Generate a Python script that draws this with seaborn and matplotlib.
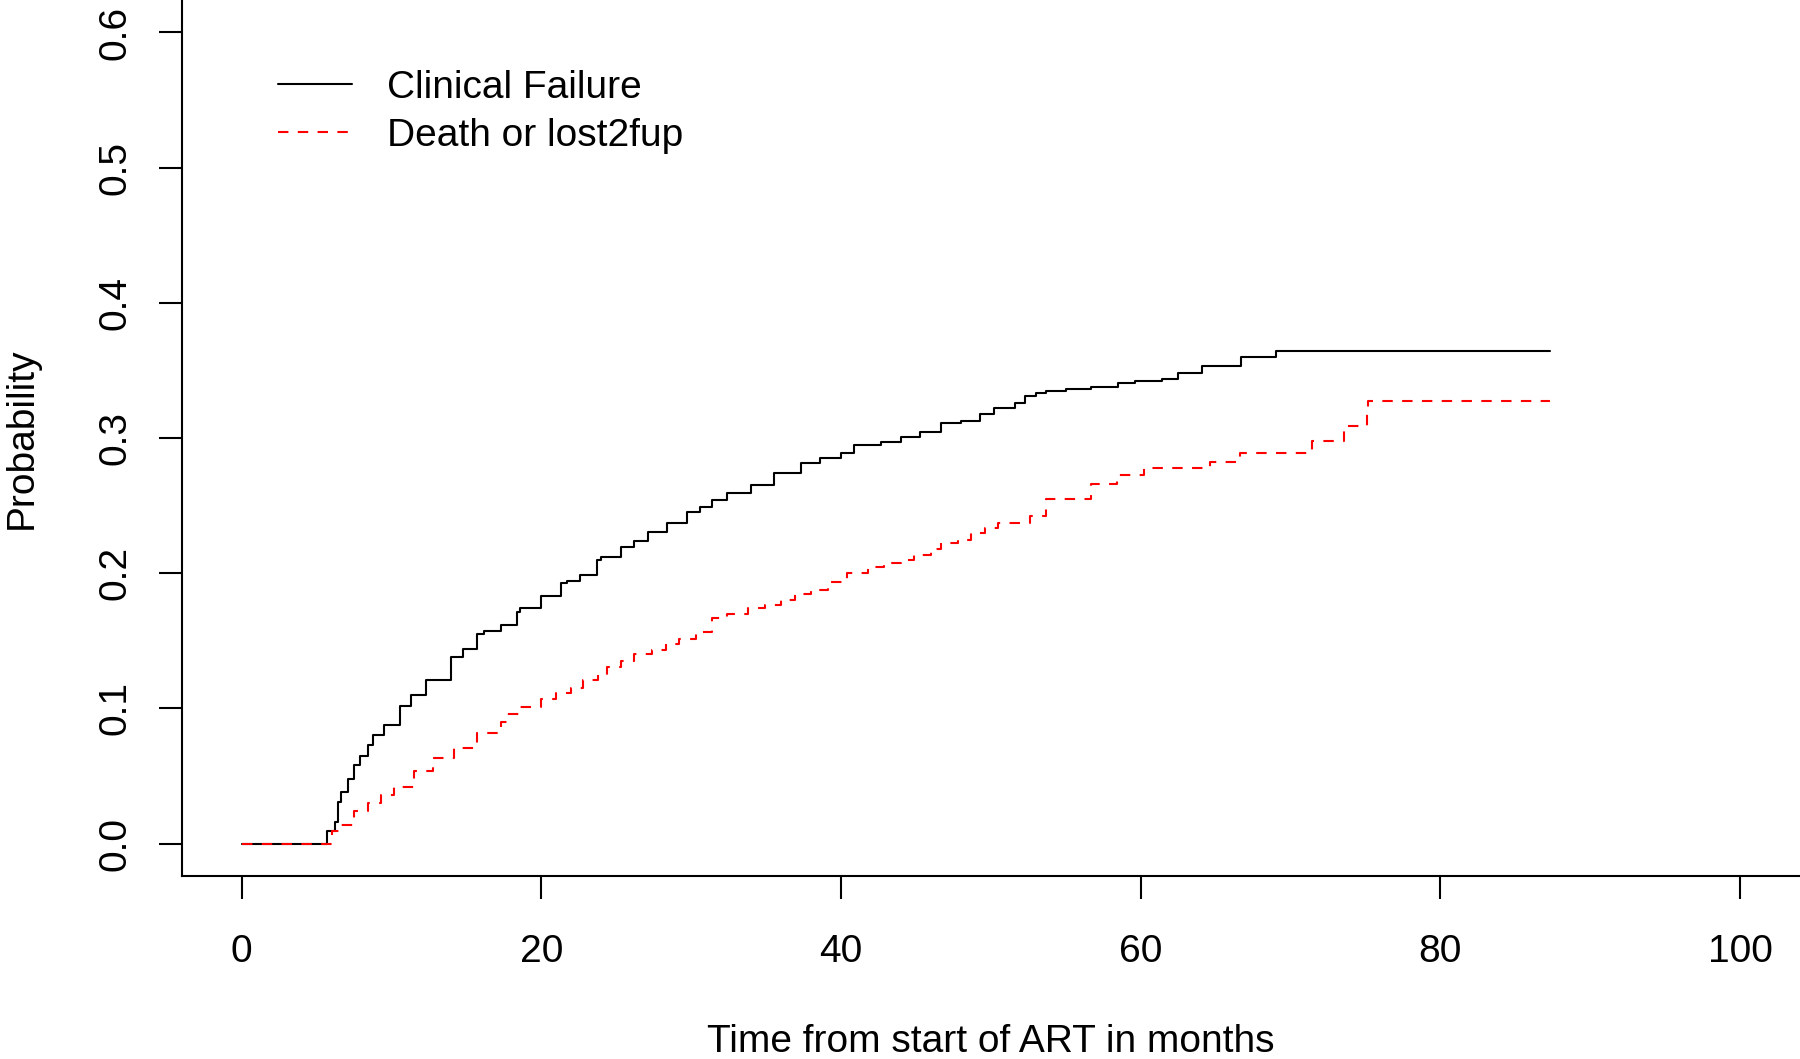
import matplotlib
matplotlib.use("Agg")
import matplotlib.pyplot as plt
import seaborn as sns

# Cumulative incidence (months, probability)
cf_time = [0, 5.6, 5.7, 6.2, 6.4, 6.6, 7.1, 7.5, 7.9, 8.4, 8.8, 9.5, 10.6, 11.3,
           12.3, 13.95, 14.8, 15.7, 16.2, 17.3, 18.4, 18.6, 20.0, 21.3, 21.7,
           22.6, 23.7, 24.0, 25.3, 26.2, 27.1, 28.4, 29.7, 30.6, 31.4, 32.4,
           34.0, 35.5, 37.3, 38.6, 40.0, 40.9, 42.7, 44.0, 45.3, 46.7, 48.0,
           49.3, 50.2, 51.6, 52.3, 53.0, 53.7, 55.0, 56.7, 58.5, 59.6, 61.4,
           62.5, 64.1, 66.7, 69.0, 87.3]
cf_prob = [0, 0, 0.009, 0.016, 0.031, 0.038, 0.048, 0.058, 0.065, 0.073, 0.080,
           0.088, 0.102, 0.110, 0.121, 0.138, 0.144, 0.155, 0.157, 0.1616,
           0.1715, 0.174, 0.183, 0.1924, 0.194, 0.1986, 0.210, 0.212, 0.2196,
           0.2235, 0.2307, 0.2369, 0.2455, 0.2492, 0.254, 0.259, 0.2652, 0.2739,
           0.2813, 0.285, 0.2887, 0.2948, 0.2973, 0.301, 0.3047, 0.3109, 0.3129,
           0.3175, 0.322, 0.326, 0.331, 0.333, 0.335, 0.336, 0.338, 0.3405,
           0.3425, 0.344, 0.348, 0.353, 0.360, 0.364, 0.364]

dl_time = [0, 5.8, 6.05, 6.6, 7.5, 8.4, 9.3, 10.2, 11.5, 12.8, 14.2, 15.7, 17.3,
           17.7, 18.6, 19.96, 21.0, 21.97, 22.8, 23.8, 24.4, 25.3, 26.2, 27.4,
           28.3, 29.2, 30.3, 31.4, 32.4, 33.8, 34.9, 36.0, 36.9, 38.0, 39.1,
           40.4, 41.8, 42.9, 44.0, 44.9, 46.0, 46.7, 47.8, 48.7, 49.6, 50.5,
           52.6, 53.7, 56.7, 58.4, 60.2, 64.6, 66.6, 71.4, 73.6, 75.1, 75.2, 87.3]
dl_prob = [0, 0, 0.009, 0.014, 0.024, 0.030, 0.036, 0.042, 0.054, 0.063, 0.071,
           0.082, 0.090, 0.0962, 0.101, 0.1068, 0.111, 0.1147, 0.121, 0.1246,
           0.1303, 0.135, 0.140, 0.1431, 0.1476, 0.1513, 0.1562, 0.1665, 0.1695,
           0.174, 0.1764, 0.180, 0.1843, 0.1875, 0.1932, 0.1999, 0.2048, 0.2072,
           0.2097, 0.2134, 0.2178, 0.222, 0.2245, 0.2295, 0.2332, 0.2369, 0.242,
           0.255, 0.266, 0.2726, 0.2776, 0.282, 0.2887, 0.2978, 0.3088, 0.318,
           0.327, 0.327]

x_ticks = [0, 20, 40, 60, 80, 100]
y_ticks = [0.0, 0.1, 0.2, 0.3, 0.4, 0.5, 0.6]


def main():
    sns.set_style("ticks")
    plt.rcParams["font.family"] = ["Liberation Sans", "DejaVu Sans"]
    plt.rcParams["text.color"] = "black"
    plt.rcParams["axes.labelcolor"] = "black"
    plt.rcParams["xtick.color"] = "black"
    plt.rcParams["ytick.color"] = "black"
    fs = 28

    fig = plt.figure(figsize=(18, 10.59), dpi=100)
    ax = fig.add_axes([181.7 / 1800, 1 - 876 / 1059, (1800 - 181.7) / 1800, 876 / 1059])

    sns.lineplot(x=cf_time, y=cf_prob, ax=ax, color="black", lw=1.5,
                 drawstyle="steps-post", label="Clinical Failure")
    sns.lineplot(x=dl_time, y=dl_prob, ax=ax, color="red", lw=1.5,
                 drawstyle="steps-post", dashes=(5, 4.5), label="Death or lost2fup")

    ax.set_xlim(-4, 104)
    ax.set_ylim(-0.024, 0.624)
    ax.set_xticks(x_ticks)
    ax.set_xticklabels([str(t) for t in x_ticks])
    ax.set_yticks(y_ticks)
    ax.set_yticklabels([f"{t:.1f}" for t in y_ticks], rotation=90, va="center")
    ax.tick_params(axis="both", length=16.5, width=1.5, labelsize=fs,
                   color="black", labelcolor="black")
    ax.tick_params(axis="x", pad=25.5)
    ax.tick_params(axis="y", pad=18.5)

    for side in ["top", "right"]:
        ax.spines[side].set_visible(False)
    for side in ["left", "bottom"]:
        ax.spines[side].set_linewidth(1.5)
        ax.spines[side].set_color("black")

    ax.set_xlabel("Time from start of ART in months", fontsize=fs, labelpad=39,
                  color="black")
    ax.set_ylabel("Probability", fontsize=fs, labelpad=41.5, color="black")

    leg = ax.legend(loc="upper left", bbox_to_anchor=(0.0595, 0.920), frameon=False,
                    fontsize=fs, handlelength=1.9, handletextpad=0.9, labelspacing=0.3,
                    borderpad=0, borderaxespad=0)
    for txt in leg.get_texts():
        txt.set_color("black")

    fig.savefig("out.png", dpi=100)
    plt.close(fig)


if __name__ == "__main__":
    main()
